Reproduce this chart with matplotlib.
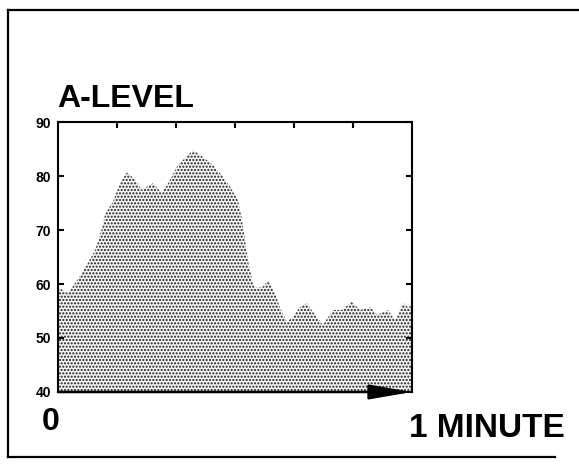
import matplotlib
matplotlib.use("Agg")
import matplotlib.pyplot as plt
from matplotlib.lines import Line2D

plt.rcParams['font.family'] = ['Liberation Sans', 'DejaVu Sans']
plt.rcParams['hatch.linewidth'] = 1.0

# time in seconds (0..60) and A-level values (dB)
seconds = [0.0, 1.7, 2.9, 4.6, 6.3, 7.5, 8.0, 9.3, 10.5, 11.7, 13.1, 14.2, 16.1,
           17.6, 19.0, 20.3, 21.5, 22.9, 24.6, 26.3, 28.0, 29.2, 30.5, 31.2, 31.7,
           32.2, 32.9, 33.4, 34.6, 35.6, 36.8, 37.6, 38.8, 39.8, 41.0, 42.2, 42.7,
           43.9, 44.9, 46.6, 48.1, 49.8, 51.2, 52.9, 54.1, 55.9, 57.1, 58.5, 59.3, 60.0]
level = [59.4, 58.3, 60.2, 63.0, 66.3, 70.5, 73.0, 75.2, 78.7, 80.7, 79.3, 77.4, 78.7,
         76.8, 79.3, 82.0, 83.3, 84.8, 83.5, 82.0, 79.8, 78.0, 75.5, 71.9, 68.1,
         64.4, 60.7, 59.3, 59.4, 60.7, 58.3, 55.7, 53.0, 53.9, 55.7, 56.5, 55.6,
         53.9, 52.4, 55.2, 55.2, 56.7, 55.2, 55.7, 54.3, 55.2, 53.3, 56.5, 55.7, 56.0]
y_ticks = [40, 50, 60, 70, 80, 90]
x_ticks = [10, 20, 30, 40, 50]

fig = plt.figure(figsize=(5.79, 4.65), dpi=100)
ax = fig.add_axes([0.1002, 0.157, 0.6114, 0.5806])

ax.fill_between(seconds, 40, level, facecolor='#f4f4f4', edgecolor='#1a1a1a',
                hatch='.....', linewidth=0)
ax.set_xlim(0, 60)
ax.set_ylim(40, 90)
ax.set_yticks(y_ticks)
ax.set_yticklabels([str(v) for v in y_ticks], fontsize=10, fontweight='bold')
ax.set_xticks(x_ticks)
ax.tick_params(axis='x', which='both', direction='in', top=True, bottom=False,
               labelbottom=False, length=4, width=1.5)
ax.tick_params(axis='y', which='both', direction='in', left=True, right=True,
               length=4, width=1.5, pad=5)
for s in ['left', 'top', 'right']:
    ax.spines[s].set_linewidth(1.5)
ax.spines['bottom'].set_visible(False)

ax.annotate('', xy=(60, 40), xytext=(0, 40), xycoords='data',
            arrowprops=dict(arrowstyle='-|>,head_length=2.6,head_width=0.45',
                            color='black', lw=1.8, shrinkA=0, shrinkB=0),
            annotation_clip=False)

fig.text(57 / 579, 1 - 107 / 465, 'A-LEVEL', fontsize=23, fontweight='bold',
         ha='left', va='baseline')
fig.text(42 / 579, 1 - 430 / 465, '0', fontsize=23, fontweight='bold',
         ha='left', va='baseline')
fig.text(565 / 579, 1 - 437 / 465, '1 MINUTE', fontsize=24, fontweight='bold',
         ha='right', va='baseline')

# outer frame (left, top, bottom edges)
fx0, fy_top, fy_bot = 8 / 579, 1 - 10 / 465, 1 - 457 / 465
fig.add_artist(Line2D([fx0, fx0], [fy_bot, fy_top], color='black', lw=1.6))
fig.add_artist(Line2D([fx0, 1.0], [fy_top, fy_top], color='black', lw=1.6))
fig.add_artist(Line2D([fx0, 555 / 579], [fy_bot, fy_bot], color='black', lw=1.6))

fig.savefig('out.png', dpi=100)
